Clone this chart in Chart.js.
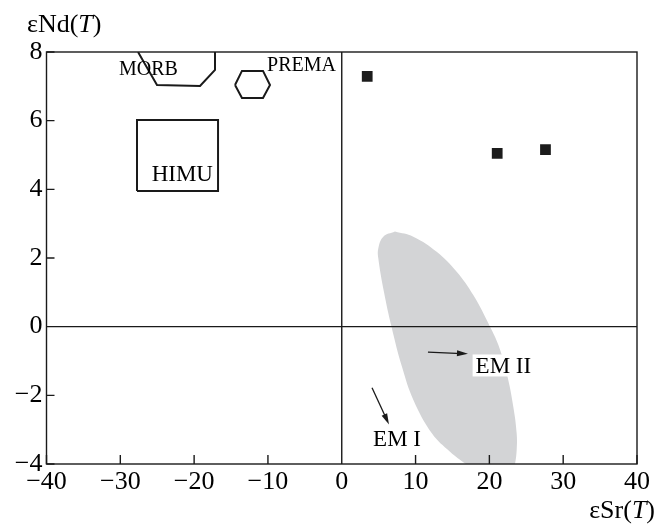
<!DOCTYPE html>
<html lang="en">
<head>
    <meta charset="UTF-8">
    <title>eNd(T) vs eSr(T)</title>
    <script src="https://cdn.jsdelivr.net/npm/chart.js"></script>
    <style>
        html, body { margin: 0; padding: 0; background: #fff; }
        #wrap { width: 665px; height: 524px; }
    </style>
</head>
<body>
<div id="wrap"><canvas id="isoChart" width="665" height="524"></canvas></div>
<script>
    // axis ticks
    const xTicks = [-40, -30, -20, -10, 0, 10, 20, 30, 40];
    const yTicks = [-4, -2, 0, 2, 4, 6, 8];

    // samples (filled squares)
    const sampleSr = [3.45, 21.06, 27.6];
    const sampleNd = [7.29, 5.05, 5.16];

    // mantle reservoir fields
    const morbX = [-27.6, -25.03, -19.2, -17.17, -17.17];
    const morbY = [8.0, 7.04, 7.01, 7.48, 8.0];
    const premaX = [-14.46, -13.52, -10.67, -9.72, -10.67, -13.52, -14.46];
    const premaY = [7.04, 7.45, 7.45, 7.04, 6.66, 6.66, 7.04];
    const himuX = [-27.74, -16.76, -16.76, -27.74, -27.74];
    const himuY = [3.95, 3.95, 6.02, 6.02, 3.95];

    // grey field (outline, clockwise from the top)
    const fieldX = [7.21, 9.69, 12.86, 15.57, 17.82, 20.09, 21.21, 22.35, 23.24, 23.7, 23.7, 23.47, 23.0, 20.0,
                    16.83, 14.67, 12.23, 9.72, 8.16, 6.74, 5.72, 4.95, 4.95, 5.63, 7.21];
    const fieldY = [2.77, 2.62, 2.18, 1.6, 0.92, 0.0, -0.53, -1.36, -2.33, -3.11, -3.59, -4.0, -4.4, -4.5,
                    -4.0, -3.64, -3.11, -2.14, -1.17, 0.0, 1.01, 1.99, 2.28, 2.62, 2.77];

    // text labels and arrows
    const labelText = ['MORB', 'PREMA', 'HIMU', 'EM II', 'EM I'];
    const labelX = [-26.2, -5.45, -21.6, 21.9, 7.49];
    const labelY = [7.52, 7.64, 4.45, -1.13, -3.26];
    const labelSize = [20, 20, 23, 23, 23];
    const labelBg = [false, false, false, true, false];
    const arrowFromX = [11.68, 4.1];
    const arrowFromY = [-0.74, -1.78];
    const arrowToX = [17.1, 6.4];
    const arrowToY = [-0.79, -2.85];

    const SERIF = '"Liberation Serif", "DejaVu Serif", serif';
    const INK = '#1a1a1a';
    const minus = v => String(v).replace('-', '\u2212');
    const pts = (xs, ys) => xs.map((x, i) => ({ x: x, y: ys[i] }));

    Chart.defaults.font.family = SERIF;
    Chart.defaults.color = '#000';

    const decorations = {
        id: 'decorations',
        afterDatasetsDraw(chart) {
            const ctx = chart.ctx;
            const xs = chart.scales.x, ys = chart.scales.y;
            const a = chart.chartArea;
            ctx.save();
            ctx.strokeStyle = INK;
            ctx.lineWidth = 1.4;
            // frame
            ctx.strokeRect(a.left, a.top, a.right - a.left, a.bottom - a.top);
            // zero lines
            ctx.beginPath();
            ctx.moveTo(a.left, ys.getPixelForValue(0));
            ctx.lineTo(a.right, ys.getPixelForValue(0));
            ctx.moveTo(xs.getPixelForValue(0), a.top);
            ctx.lineTo(xs.getPixelForValue(0), a.bottom);
            // inward ticks
            xTicks.forEach(v => {
                const px = xs.getPixelForValue(v);
                ctx.moveTo(px, a.bottom);
                ctx.lineTo(px, a.bottom - 9);
            });
            yTicks.forEach(v => {
                const py = ys.getPixelForValue(v);
                ctx.moveTo(a.left, py);
                ctx.lineTo(a.left + 8, py);
            });
            ctx.stroke();

            // arrows
            ctx.fillStyle = INK;
            ctx.lineWidth = 1.3;
            arrowFromX.forEach((fx, i) => {
                const x1 = xs.getPixelForValue(fx), y1 = ys.getPixelForValue(arrowFromY[i]);
                const x2 = xs.getPixelForValue(arrowToX[i]), y2 = ys.getPixelForValue(arrowToY[i]);
                const ang = Math.atan2(y2 - y1, x2 - x1);
                ctx.beginPath();
                ctx.moveTo(x1, y1);
                ctx.lineTo(x2 - 6 * Math.cos(ang), y2 - 6 * Math.sin(ang));
                ctx.stroke();
                ctx.beginPath();
                ctx.moveTo(x2, y2);
                ctx.lineTo(x2 - 11 * Math.cos(ang) - 3 * Math.sin(ang), y2 - 11 * Math.sin(ang) + 3 * Math.cos(ang));
                ctx.lineTo(x2 - 11 * Math.cos(ang) + 3 * Math.sin(ang), y2 - 11 * Math.sin(ang) - 3 * Math.cos(ang));
                ctx.closePath();
                ctx.fill();
            });

            // labels
            ctx.textAlign = 'center';
            ctx.textBaseline = 'middle';
            labelText.forEach((t, i) => {
                const px = xs.getPixelForValue(labelX[i]);
                const py = ys.getPixelForValue(labelY[i]);
                ctx.font = labelSize[i] + 'px ' + SERIF;
                if (labelBg[i]) {
                    const w = ctx.measureText(t).width;
                    ctx.fillStyle = '#fff';
                    ctx.fillRect(px - w / 2 - 3, py - 11, w + 6, 22);
                }
                ctx.fillStyle = '#000';
                ctx.fillText(t, px, py + 1);
            });

            // axis titles with italic T
            const title = (parts, x, y, alignRight) => {
                let total = 0;
                parts.forEach(p => {
                    ctx.font = (p[1] ? 'italic ' : '') + '26px ' + SERIF;
                    total += ctx.measureText(p[0]).width;
                });
                let cx = alignRight ? x - total : x;
                ctx.textAlign = 'left';
                ctx.textBaseline = 'alphabetic';
                parts.forEach(p => {
                    ctx.font = (p[1] ? 'italic ' : '') + '26px ' + SERIF;
                    ctx.fillText(p[0], cx, y);
                    cx += ctx.measureText(p[0]).width;
                });
            };
            ctx.fillStyle = '#000';
            title([['\u03b5Nd(', false], ['T', true], [')', false]], 27, 32, false);
            title([['\u03b5Sr(', false], ['T', true], [')', false]], 655, 518, true);
            ctx.restore();
        }
    };

    const ctx = document.getElementById('isoChart').getContext('2d');
    new Chart(ctx, {
        type: 'scatter',
        data: {
            datasets: [
                {
                    label: 'samples',
                    data: pts(sampleSr, sampleNd),
                    pointStyle: 'rect',
                    pointRadius: 7.6,
                    backgroundColor: '#1c1c1c',
                    borderColor: '#1c1c1c',
                    borderWidth: 0
                },
                {
                    label: 'MORB',
                    data: pts(morbX, morbY),
                    showLine: true, fill: false, pointRadius: 0,
                    borderColor: INK, borderWidth: 2
                },
                {
                    label: 'PREMA',
                    data: pts(premaX, premaY),
                    showLine: true, fill: false, pointRadius: 0,
                    borderColor: INK, borderWidth: 2
                },
                {
                    label: 'HIMU',
                    data: pts(himuX, himuY),
                    showLine: true, fill: false, pointRadius: 0,
                    borderColor: INK, borderWidth: 2
                },
                {
                    label: 'field',
                    data: pts(fieldX, fieldY),
                    showLine: true,
                    fill: 'shape',
                    tension: 0.4,
                    pointRadius: 0,
                    borderWidth: 0,
                    borderColor: 'rgba(0,0,0,0)',
                    backgroundColor: 'rgb(211, 212, 214)',
                    order: 10
                }
            ]
        },
        options: {
            responsive: false,
            animation: false,
            events: [],
            layout: { padding: { left: 0, top: 52, right: 28, bottom: 0 } },
            plugins: {
                legend: { display: false },
                tooltip: { enabled: false }
            },
            scales: {
                x: {
                    type: 'linear',
                    min: -40, max: 40,
                    afterFit: s => { s.height = 60; },
                    afterBuildTicks: s => { s.ticks = xTicks.map(v => ({ value: v })); },
                    ticks: {
                        font: { size: 26 },
                        color: '#000',
                        padding: 3,
                        maxRotation: 0,
                        callback: v => minus(v)
                    },
                    grid: { display: false, drawTicks: false },
                    border: { display: false }
                },
                y: {
                    type: 'linear',
                    min: -4, max: 8,
                    afterFit: s => { s.width = 46.5; },
                    afterBuildTicks: s => { s.ticks = yTicks.map(v => ({ value: v })); },
                    ticks: {
                        font: { size: 26 },
                        color: '#000',
                        padding: 4,
                        callback: v => minus(v)
                    },
                    grid: { display: false, drawTicks: false },
                    border: { display: false }
                }
            }
        },
        plugins: [decorations]
    });
</script>
</body>
</html>
